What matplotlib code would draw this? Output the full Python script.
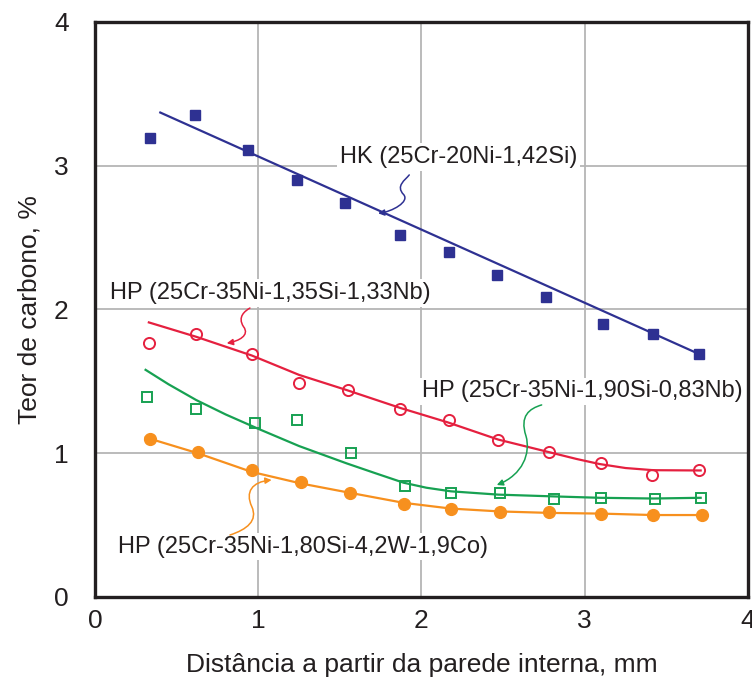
import numpy as np
import matplotlib
matplotlib.use('Agg')
import matplotlib.pyplot as plt
from matplotlib.path import Path
from matplotlib.patches import FancyArrowPatch

plt.rcParams['font.family'] = ['Liberation Sans', 'DejaVu Sans']

# HK (25Cr-20Ni-1,42Si)
hk_x = [0.34, 0.61, 0.94, 1.24, 1.53, 1.87, 2.17, 2.46, 2.76, 3.11, 3.42, 3.70]
hk_y = [3.19, 3.35, 3.11, 2.90, 2.74, 2.52, 2.40, 2.24, 2.09, 1.90, 1.83, 1.69]
hk_fit_x = [0.40, 3.70]
hk_fit_y = [3.37, 1.69]

# HP (25Cr-35Ni-1,35Si-1,33Nb)
red_x = [0.33, 0.62, 0.96, 1.25, 1.55, 1.87, 2.17, 2.47, 2.78, 3.10, 3.41, 3.70]
red_y = [1.77, 1.83, 1.69, 1.49, 1.44, 1.31, 1.23, 1.09, 1.01, 0.93, 0.85, 0.88]
red_fit_x = [0.33, 0.62, 0.96, 1.25, 1.54, 1.87, 2.16, 2.47, 2.79, 2.95, 3.09, 3.25, 3.42, 3.71]
red_fit_y = [1.91, 1.81, 1.68, 1.545, 1.44, 1.315, 1.215, 1.095, 1.005, 0.96, 0.925, 0.897, 0.882, 0.88]

# HP (25Cr-35Ni-1,90Si-0,83Nb)
green_x = [0.32, 0.62, 0.98, 1.24, 1.57, 1.90, 2.18, 2.48, 2.81, 3.10, 3.43, 3.71]
green_y = [1.39, 1.31, 1.21, 1.23, 1.00, 0.77, 0.72, 0.72, 0.68, 0.69, 0.68, 0.69]
green_fit_x = [0.31, 0.45, 0.62, 0.80, 1.00, 1.25, 1.54, 1.72, 1.89, 2.03, 2.18, 2.47, 2.80, 3.09, 3.42, 3.71]
green_fit_y = [1.58, 1.48, 1.37, 1.27, 1.17, 1.05, 0.93, 0.86, 0.795, 0.76, 0.735, 0.712, 0.70, 0.69, 0.685, 0.69]

# HP (25Cr-35Ni-1,80Si-4,2W-1,9Co)
orange_x = [0.34, 0.63, 0.96, 1.26, 1.56, 1.89, 2.18, 2.48, 2.78, 3.10, 3.42, 3.72]
orange_y = [1.10, 1.01, 0.88, 0.80, 0.72, 0.65, 0.61, 0.59, 0.59, 0.58, 0.57, 0.57]
orange_fit_x = [0.31, 0.63, 0.96, 1.26, 1.56, 1.89, 2.18, 2.48, 2.78, 3.10, 3.42, 3.72]
orange_fit_y = [1.11, 1.00, 0.87, 0.79, 0.725, 0.655, 0.615, 0.595, 0.585, 0.58, 0.57, 0.57]

ticks = [0, 1, 2, 3, 4]
blue, red, green, orange = '#2e3192', '#e5203f', '#17a152', '#f7901e'
txt = '#231f20'

fig = plt.figure(figsize=(7.52, 6.78), dpi=100)
ax = fig.add_axes([0.1263, 0.1195, 0.8684, 0.8481])

ax.plot(hk_fit_x, hk_fit_y, color=blue, lw=1.6, zorder=3)
ax.plot(hk_x, hk_y, 's', color=blue, ms=7, zorder=4)

ax.plot(red_fit_x, red_fit_y, color=red, lw=1.6, zorder=3)
ax.plot(red_x, red_y, 'o', mfc='none', mec=red, mew=1.4, ms=8, zorder=4)

ax.plot(green_fit_x, green_fit_y, color=green, lw=1.6, zorder=3)
ax.plot(green_x, green_y, 's', mfc='none', mec=green, mew=1.4, ms=7, zorder=4)

ax.plot(orange_fit_x, orange_fit_y, color=orange, lw=1.6, zorder=3)
ax.plot(orange_x, orange_y, 'o', color=orange, ms=8.5, zorder=4)

ax.set_xlim(0, 4)
ax.set_ylim(0, 4)
ax.set_xticks(ticks)
ax.set_yticks(ticks)
ax.tick_params(length=0, labelsize=19, colors=txt)
ax.tick_params(axis='x', pad=9)
ax.tick_params(axis='y', pad=19)
ax.grid(True, color='#b5b5b5', lw=1.3, zorder=0)
for s in ax.spines.values():
    s.set_linewidth(2.4)
    s.set_color(txt)

ax.set_xlabel('Distância a partir da parede interna, mm', fontsize=19, color=txt, labelpad=14)
ax.set_ylabel('Teor de carbono, %', fontsize=19, color=txt, labelpad=9)

box = dict(facecolor='white', edgecolor='none', pad=2)
ax.text(1.50, 3.06, 'HK (25Cr-20Ni-1,42Si)', fontsize=17, color=txt, va='center', bbox=box, zorder=5)
ax.text(0.09, 2.115, 'HP (25Cr-35Ni-1,35Si-1,33Nb)', fontsize=17, color=txt, va='center', bbox=box, zorder=5)
ax.text(2.005, 1.43, 'HP (25Cr-35Ni-1,90Si-0,83Nb)', fontsize=17, color=txt, va='center', bbox=box, zorder=5)
ax.text(0.14, 0.35, 'HP (25Cr-35Ni-1,80Si-4,2W-1,9Co)', fontsize=17, color=txt, va='center', bbox=box, zorder=5)

# wavy pointer arrows
C = [Path.MOVETO, Path.CURVE4, Path.CURVE4, Path.CURVE4, Path.CURVE4, Path.CURVE4, Path.CURVE4]
squiggles = [
    (blue, [(1.925, 2.936), (1.90, 2.90), (1.84, 2.86), (1.89, 2.80), (1.93, 2.75), (1.82, 2.68), (1.734, 2.669)]),
    (red, [(0.949, 2.010), (0.92, 1.99), (0.87, 1.95), (0.91, 1.88), (0.95, 1.82), (0.88, 1.78), (0.807, 1.765)]),
    (green, [(2.736, 1.336), (2.66, 1.31), (2.60, 1.26), (2.64, 1.12), (2.67, 1.00), (2.62, 0.85), (2.461, 0.779)]),
    (orange, [(0.827, 0.431), (0.93, 0.47), (1.00, 0.53), (0.96, 0.63), (0.92, 0.73), (0.96, 0.80), (1.082, 0.814)]),
]
for col, pts in squiggles:
    arr = FancyArrowPatch(path=Path(pts, C), arrowstyle='-|>', mutation_scale=9,
                          color=col, lw=1.1, zorder=6)
    ax.add_patch(arr)

fig.savefig('out.png', dpi=100)
